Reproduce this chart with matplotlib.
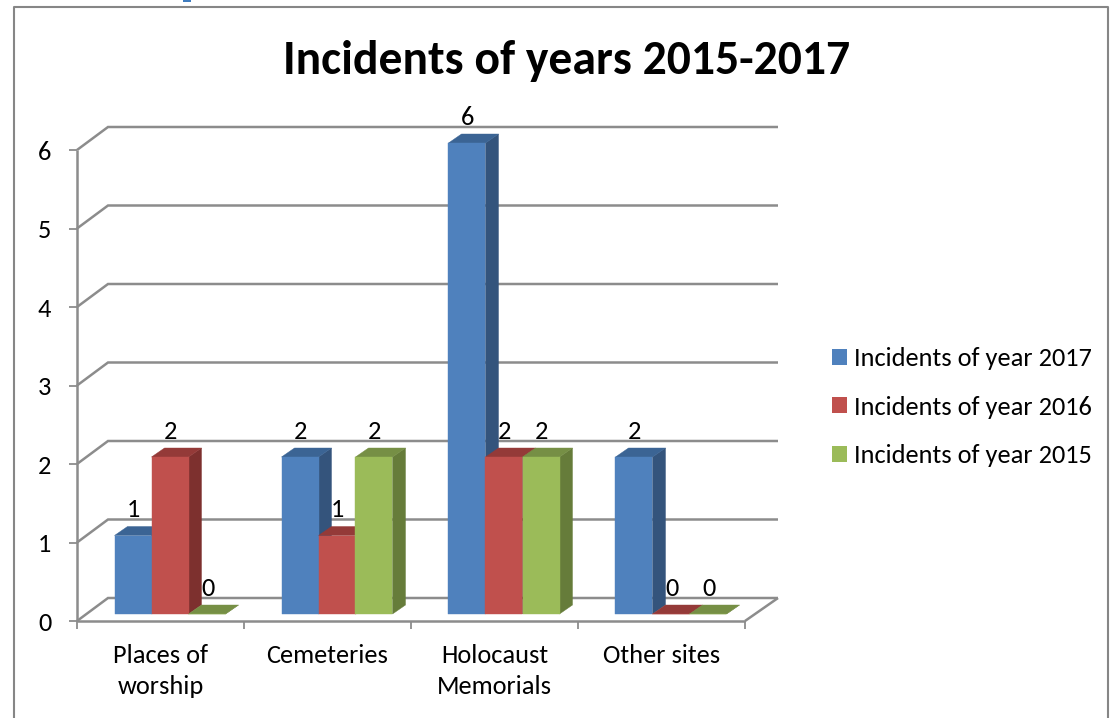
import matplotlib
matplotlib.use("Agg")
import matplotlib.pyplot as plt
from matplotlib.patches import Patch, Polygon, Rectangle

# chart data
categories = ["Places of\nworship", "Cemeteries", "Holocaust\nMemorials", "Other sites"]
series_names = ["Incidents of year 2017", "Incidents of year 2016", "Incidents of year 2015"]
incidents_2017 = [1, 2, 6, 2]
incidents_2016 = [2, 1, 2, 0]
incidents_2015 = [0, 2, 2, 0]
y_ticks = [0, 1, 2, 3, 4, 5, 6]

# colours: front, side, top
BLUE = ("#4F81BD", "#34547C", "#3B6494")
RED = ("#C0504D", "#7D302E", "#943A38")
GREEN = ("#9BBB59", "#667C3A", "#768F45")
GRID = "#8C8C8C"

plt.rcParams["font.family"] = ["Carlito", "Lato", "DejaVu Sans"]

W, H = 1110, 718
LABEL_SIZE = 19
fig = plt.figure(figsize=(W / 100, H / 100), dpi=100)

# plot front plane in pixels: x 77-745, y 150-621
ax = fig.add_axes([77 / W, 1 - 621 / H, (745 - 77) / W, (621 - 150) / H])
ax.set_xlim(0, 4)
ax.set_ylim(0, 6)
ax.axis("off")

# one pixel in data units
px = 4 / (745 - 77)
py = 6 / (621 - 150)
WALL_DX, WALL_DY = 31 * px, 23 * py
WALL_RIGHT = 4 + 33 * px


def line(xs, ys, lw=1.8, z=1):
    ax.plot(xs, ys, color=GRID, lw=lw, zorder=z, clip_on=False,
            solid_capstyle="butt", solid_joinstyle="miter")


# wall, floor and axes
for v in y_ticks:
    line([0, WALL_DX, WALL_RIGHT], [v, v + WALL_DY, v + WALL_DY])
    line([-8 * px, 0], [v, v], lw=1.3)
line([0, 0], [0, 6])
line([4, WALL_RIGHT], [0, WALL_DY])
line([0, 4], [0, 0], z=1)
for i in range(len(categories) + 1):
    line([i, i], [0, -8 * py], lw=1.3)

for v in y_ticks:
    ax.annotate(str(v), (0, v), xytext=(-18.5, -1.5), textcoords="offset points",
                ha="right", va="center", fontsize=LABEL_SIZE, annotation_clip=False)
for i, cat in enumerate(categories):
    ax.annotate(cat, (i + 0.5, 0), xytext=(0, -16.5), textcoords="offset points",
                ha="center", va="top", fontsize=LABEL_SIZE, linespacing=1.42,
                annotation_clip=False)

# bars
BAR_W = 37 * px
BAR_START = 37.5 * px
BASE_DY = 7 * py
DEPTH_X, DEPTH_Y = 13 * px, 9 * py

series = [(incidents_2017, BLUE), (incidents_2016, RED), (incidents_2015, GREEN)]
labels = []
for s, (values, colors) in enumerate(series):
    front, side, top = colors
    for i, v in enumerate(values):
        x0 = i + BAR_START + s * BAR_W
        x1 = x0 + BAR_W
        y0 = BASE_DY
        y1 = v + BASE_DY
        ax.add_patch(Polygon([(x1, y0), (x1 + DEPTH_X, y0 + DEPTH_Y),
                              (x1 + DEPTH_X, y1 + DEPTH_Y), (x1, y1)],
                             fc=side, ec=side, lw=0.3, zorder=3 + s, clip_on=False))
        ax.add_patch(Polygon([(x0, y1), (x0 + DEPTH_X, y1 + DEPTH_Y),
                              (x1 + DEPTH_X, y1 + DEPTH_Y), (x1, y1)],
                             fc=top, ec=top, lw=0.3, zorder=3 + s, clip_on=False))
        ax.add_patch(Rectangle((x0, y0), BAR_W, v, fc=front, ec=front, lw=0.3,
                               zorder=3 + s, clip_on=False))
        labels.append(((x0 + x1) / 2, y1, v))

for x, y, v in labels:
    ax.annotate(str(v), (x, y), xytext=(0.5, 18.5), textcoords="offset points",
                ha="center", va="center", fontsize=LABEL_SIZE, zorder=10,
                annotation_clip=False)

# outer chart border
fig.add_artist(plt.Line2D([14 / W, 14 / W, 1108 / W, 1108 / W],
                          [0, 1 - 7 / H, 1 - 7 / H, 0],
                          color="#868686", lw=1.5))
fig.add_artist(Rectangle((183 / W, 1 - 2 / H), 8 / W, 2 / H, fc="#3F7CBF", ec="none",
                         transform=fig.transFigure))

fig.text(567 / W, 1 - 61.5 / H, "Incidents of years 2015-2017", ha="center", va="center",
         fontsize=34.3, fontweight="bold")

handles = [Patch(fc=c[0], ec="none") for _, c in series]
fig.legend(handles, series_names, loc="upper left", bbox_to_anchor=(832 / W, 1 - 347 / H),
           frameon=False, fontsize=LABEL_SIZE, handlelength=0.57, handleheight=0.57,
           handletextpad=0.28, labelspacing=0.97, borderpad=0, borderaxespad=0)

fig.savefig("out.png", dpi=100)
